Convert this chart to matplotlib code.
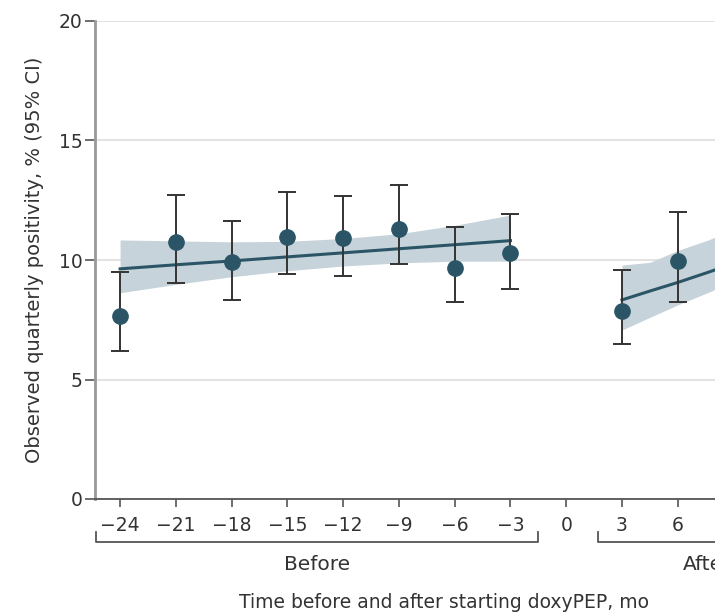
import numpy as np
import matplotlib
matplotlib.use("Agg")
import matplotlib.pyplot as plt
from matplotlib.transforms import blended_transform_factory

# observed quarterly positivity (%), with 95% CI
months_before = [-24, -21, -18, -15, -12, -9, -6, -3]
pos_before = [7.67, 10.74, 9.93, 10.97, 10.91, 11.28, 9.65, 10.31]
lo_before = [6.19, 9.02, 8.33, 9.41, 9.33, 9.83, 8.23, 8.79]
hi_before = [9.51, 12.72, 11.62, 12.83, 12.66, 13.12, 11.39, 11.92]

months_after = [3, 6]
pos_after = [7.87, 9.96]
lo_after = [6.50, 8.24]
hi_after = [9.57, 12.0]

# fitted trend and its confidence band
fit_before_x = [-24, -21, -18, -15, -12, -9, -6, -3]
fit_before = [9.63, 9.80, 9.96, 10.13, 10.30, 10.47, 10.64, 10.81]
band_before_lo = [8.63, 8.98, 9.30, 9.55, 9.75, 9.88, 9.95, 9.95]
band_before_hi = [10.84, 10.80, 10.76, 10.78, 10.90, 11.10, 11.45, 11.88]

fit_after_x = [3, 4.5, 6, 7.5, 9]
fit_after = [8.33, 8.70, 9.06, 9.45, 9.85]
band_after_lo = [7.07, 7.60, 8.12, 8.60, 9.10]
band_after_hi = [9.79, 9.90, 10.40, 10.80, 11.25]

periods = [("Before", -24, -3), ("After", 3, 12)]
xticks = list(range(-24, 7, 3))
yticks = [0, 5, 10, 15, 20]

teal = "#2b5566"
band_col = "#c6d3da"
ink = "#333333"

plt.rcParams['font.family'] = ['DejaVu Sans']
fig = plt.figure(figsize=(7.15, 6.16), dpi=100)
# axes runs past the right edge of the figure (the figure is a crop)
ax = fig.add_axes([95 / 715, 117 / 616, 724 / 715, 478 / 616])

ax.fill_between(fit_before_x, band_before_lo, band_before_hi, color=band_col, lw=0, zorder=1)
ax.fill_between(fit_after_x, band_after_lo, band_after_hi, color=band_col, lw=0, zorder=1)
ax.plot(fit_before_x, fit_before, color=teal, lw=2.2, zorder=2)
ax.plot(fit_after_x, fit_after, color=teal, lw=2.2, zorder=2)

for m, p, lo, hi in [(months_before, pos_before, lo_before, hi_before),
                     (months_after, pos_after, lo_after, hi_after)]:
    p = np.array(p)
    yerr = [p - np.array(lo), np.array(hi) - p]
    ax.errorbar(m, p, yerr=yerr, fmt='none', ecolor=ink, elinewidth=1.4,
                capsize=6.5, capthick=1.4, zorder=3)
    ax.plot(m, p, 'o', color=teal, markersize=11, zorder=4)

ax.set_xlim(-25.35, 13.6)
ax.set_ylim(0, 20)
ax.set_xticks(xticks)
ax.set_yticks(yticks)
ax.grid(axis='y', color='#dddddd', lw=1.2, zorder=0)
ax.set_axisbelow(True)

for s in ['top', 'right']:
    ax.spines[s].set_visible(False)
ax.spines['left'].set_color('#999999')
ax.spines['left'].set_linewidth(2)
ax.spines['bottom'].set_color('#555555')
ax.spines['bottom'].set_linewidth(1.3)
ax.tick_params(axis='y', length=7, width=1.2, color='#555555', labelsize=13.5,
               labelcolor=ink, pad=2)
ax.tick_params(axis='x', length=6, width=1.2, color='#555555', labelsize=13.5,
               labelcolor=ink, pad=6)

# period brackets under the axis
tr = blended_transform_factory(ax.transData, ax.transAxes)
for name, a, b in periods:
    x0, x1 = a - 1.3, b + 1.5
    ax.plot([x0, x0, x1, x1], [-0.069, -0.09, -0.09, -0.069], color='#555555',
            lw=1.3, transform=tr, clip_on=False)
    ax.text((x0 + x1) / 2, -0.138, name, transform=tr, ha='center', va='center',
            fontsize=14.5, color=ink)

fig.text(444 / 715, 1 - 603 / 616, "Time before and after starting doxyPEP, mo",
         ha='center', va='center', fontsize=13.5, color=ink)
fig.text(35 / 715, 1 - 260 / 616, "Observed quarterly positivity, % (95% CI)",
         ha='center', va='center', rotation=90, fontsize=14, color=ink)

fig.savefig("out.png", dpi=100)
